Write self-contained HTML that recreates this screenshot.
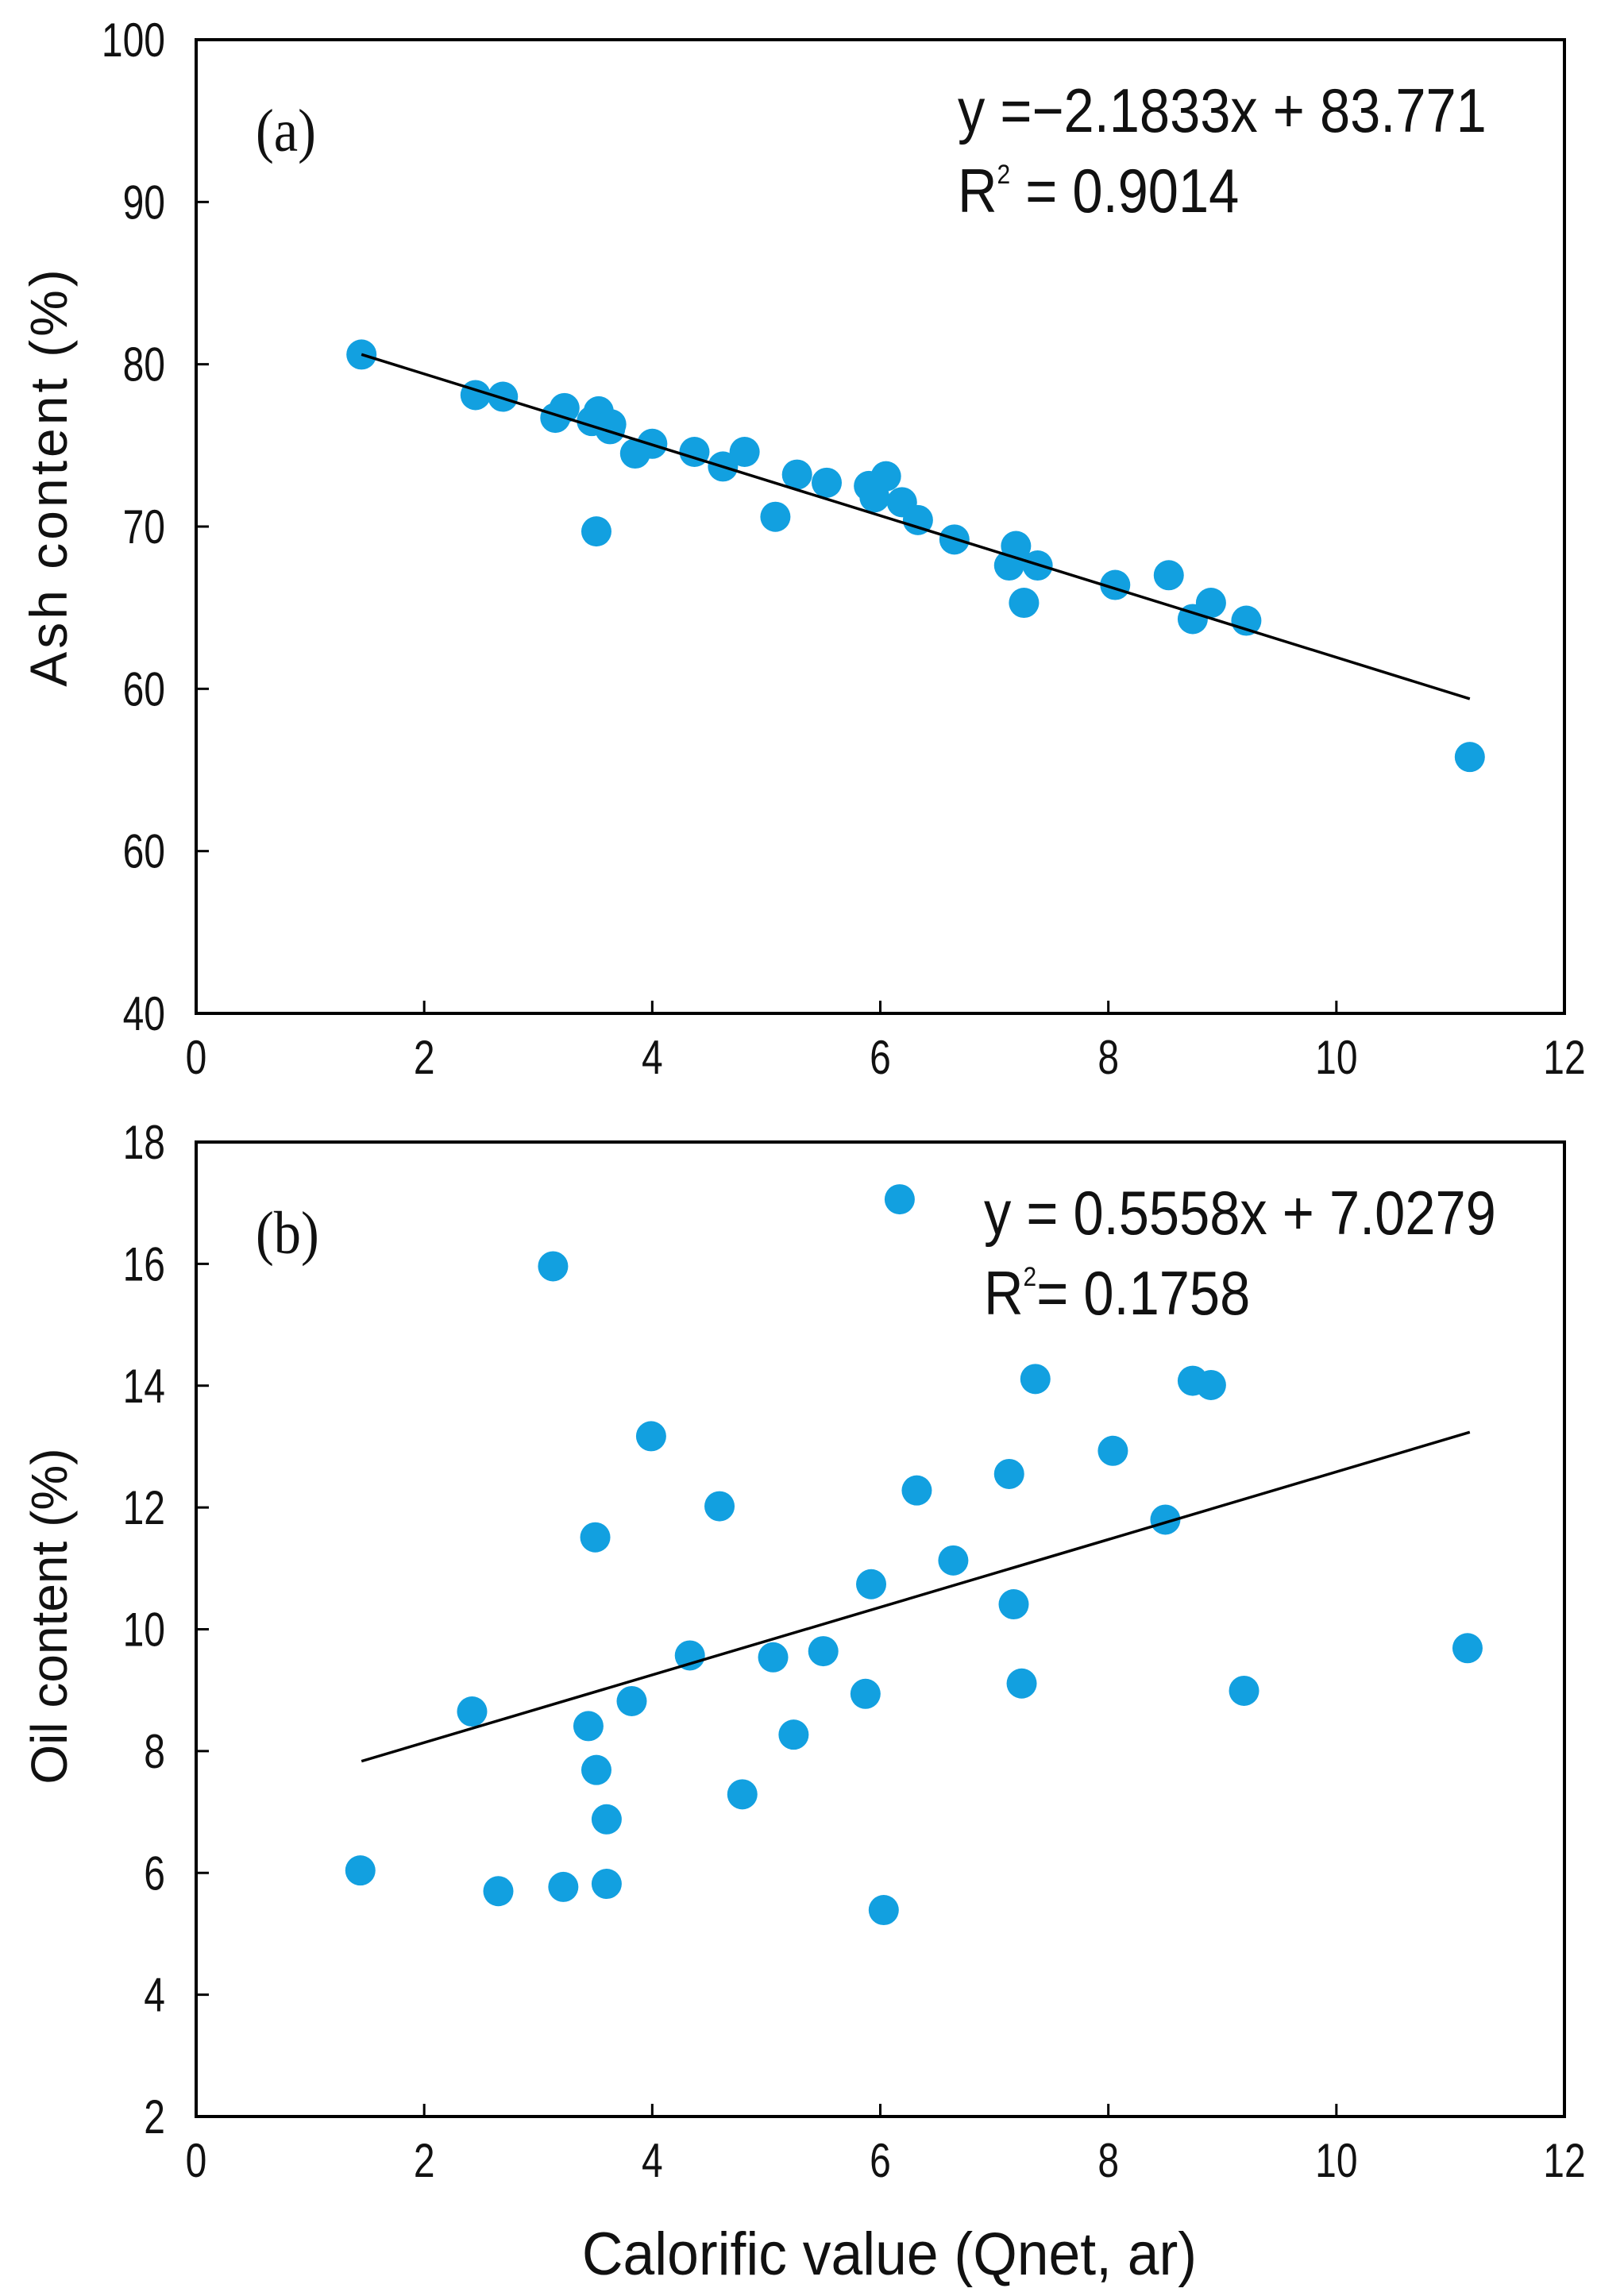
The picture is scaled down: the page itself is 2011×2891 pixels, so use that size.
<!DOCTYPE html>
<html><head><meta charset="utf-8"><style>
html,body{margin:0;padding:0;background:#fff;}
svg{display:block;font-family:"Liberation Sans",Arial,sans-serif;}
</style></head><body>
<svg id="fig" width="2011" height="2891" viewBox="0 0 2011 2891" xmlns="http://www.w3.org/2000/svg">
<rect x="0" y="0" width="2011" height="2891" fill="#fff"/>
<g id="pa"></g>
<g id="pb"></g>
<text transform="translate(1120,2864) scale(0.94,1)" font-size="76" text-anchor="middle" fill="#111">Calorific value (Qnet, ar)</text>
</svg>
<script>
const xTicks = [0,2,4,6,8,10,12];
const aTickVals = [40,50,60,70,80,90,100];
const aTickLabels = ["40","60","60","70","80","90","100"];
const bTickVals = [2,4,6,8,10,12,14,16,18];
const bTickLabels = ["2","4","6","8","10","12","14","16","18"];
const ashX = [1.45,2.45,2.69,3.15,3.23,3.47,3.53,3.63,3.64,3.51,3.85,4.0,4.37,4.62,4.81,5.08,5.27,5.53,5.9,5.95,6.05,6.19,6.33,6.65,7.13,7.19,7.26,7.38,8.06,8.53,8.74,8.9,9.21,11.17];
const ashY = [80.6,78.1,78.0,76.7,77.3,76.5,77.1,76.0,76.3,69.7,74.5,75.1,74.6,73.7,74.6,70.6,73.2,72.7,72.5,71.8,73.1,71.5,70.4,69.2,67.6,68.8,65.3,67.6,66.4,67.0,64.3,65.3,64.2,55.8];
const oilX = [1.44,2.42,2.65,3.13,3.22,3.44,3.5,3.51,3.6,3.6,3.82,3.99,4.33,4.59,4.79,5.06,5.24,5.5,5.87,5.92,6.03,6.17,6.32,6.64,7.13,7.17,7.24,7.36,8.04,8.5,8.74,8.9,9.19,11.15];
const oilY = [6.04,8.65,5.7,15.96,5.77,8.41,11.51,7.69,5.82,6.88,8.82,13.17,9.57,12.02,7.29,9.54,8.27,9.64,8.94,10.74,5.39,17.06,12.28,11.13,12.55,10.41,9.11,14.11,12.93,11.8,14.08,14.01,8.99,9.69];
const ashFit = [-2.1833, 83.771];
const oilFit = [0.5558, 7.0279];
const fitRange = [1.45, 11.17];

const NS="http://www.w3.org/2000/svg";
function mk(parent,tag,attrs,text){const e=document.createElementNS(NS,tag);for(const k in attrs)e.setAttribute(k,attrs[k]);if(text!==undefined)e.textContent=text;parent.appendChild(e);return e;}

function panel(g,top,bottom,ymin,ymax,tv,tl,xs,ys,fit,letter,eq,r2,ytitle,eqx,ytsize,ytcenter,ytspace){
  const L=247,R=1970;
  const sx=v=>L+(v-0)/(12-0)*(R-L);
  const sy=v=>bottom-(v-ymin)/(ymax-ymin)*(bottom-top);
  const fr=mk(g,'rect',{x:L,y:top,width:R-L,height:bottom-top,fill:'none',stroke:'#000','stroke-width':4});
  
  
  xTicks.forEach(t=>{
    const x=sx(t);
    if(t>0&&t<12){const tk=mk(g,'line',{x1:x,x2:x,y1:bottom,y2:bottom-16,stroke:'#000','stroke-width':3});
    
    }
    const lb=mk(g,'text',{transform:`translate(${x},${bottom+76}) scale(0.8,1)`,'font-size':60,'text-anchor':'middle',fill:'#111'},String(t));
    
    
  });
  tv.forEach((t,i)=>{
    const y=sy(t);
    if(i>0&&i<tv.length-1){const tk=mk(g,'line',{x1:L,x2:L+16,y1:y,y2:y,stroke:'#000','stroke-width':3});
    
    }
    const lb=mk(g,'text',{transform:`translate(208,${y+21}) scale(0.8,1)`,'font-size':60,'text-anchor':'end',fill:'#111'},tl[i]);
    
    
  });
  xs.forEach((v,i)=>{
    const c=mk(g,'circle',{cx:sx(v),cy:sy(ys[i]),r:19,fill:'#12a0e0'});
    
    
  });
  const ln=mk(g,'line',{x1:sx(fitRange[0]),y1:sy(fit[0]*fitRange[0]+fit[1]),x2:sx(fitRange[1]),y2:sy(fit[0]*fitRange[1]+fit[1]),stroke:'#000','stroke-width':3.5});
  
  
  const lt=mk(g,'text',{transform:`translate(322,${top+140}) scale(0.9,1)`,'font-size':76,'font-family':'"Liberation Serif",serif',fill:'#111'},letter);
  
  
  const e1=mk(g,'text',{transform:`translate(${eqx},${top+116}) scale(0.88,1)`,'font-size':78,fill:'#111'},eq);
  
  
  const e2=mk(g,'text',{transform:`translate(${eqx},${top+217}) scale(0.88,1)`,'font-size':78,fill:'#111'});
  
  
  e2.appendChild(document.createTextNode('R'));
  mk(e2,'tspan',{'font-size':34,dy:-36},'2');
  mk(e2,'tspan',{dy:36},r2);
  const yt=mk(g,'text',{x:0,y:0,'font-size':ytsize,'letter-spacing':ytspace,'text-anchor':'middle',fill:'#111',transform:`translate(84,${ytcenter}) rotate(-90)`},ytitle);
  
  
}
panel(document.getElementById('pa'),50,1276,40,100,aTickVals,aTickLabels,ashX,ashY,ashFit,'(a)','y =\u22122.1833x + 83.771',' = 0.9014','Ash  content  (%)',1206,66,600,4);
panel(document.getElementById('pb'),1438,2665,2,18,bTickVals,bTickLabels,oilX,oilY,oilFit,'(b)','y = 0.5558x + 7.0279','= 0.1758','Oil content (%)',1239,64,2035,0);
</script>
</body></html>
